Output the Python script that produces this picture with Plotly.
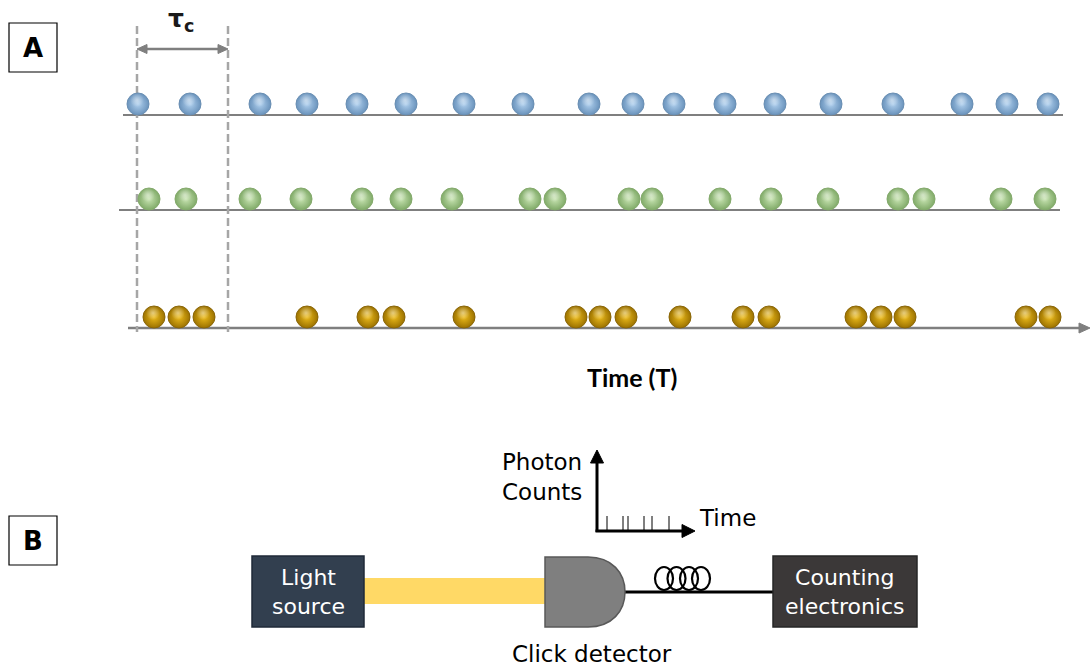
import plotly.graph_objects as go

# ---- data: photon arrival times (horizontal position along the time axis) ----
blue_times = [138, 190, 260, 307, 357, 406, 464, 523, 589, 633, 674, 725, 775, 831, 893, 962, 1007, 1048]
green_times = [149, 186, 250, 301, 362, 401, 452, 530, 555, 629, 652, 720, 771, 828, 898, 924, 1001, 1045]
gold_times = [154, 179, 204, 307, 368, 394, 464, 576, 600, 626, 680, 743, 769, 856, 881, 905, 1026, 1050]
counter_ticks = [607, 623, 628, 644, 652, 669]

# c = centre colour, e = rim colour of each shaded photon
rows = [
    dict(t=blue_times, y=104, line_y=115, x0=123, x1=1063, c="#B0D0EE", e="#6A93BC", edge="#6A8FB3"),
    dict(t=green_times, y=199, line_y=210, x0=119, x1=1060, c="#C8E4B2", e="#80AA68", edge="#84AA6C"),
    dict(t=gold_times, y=317, line_y=328, x0=128, x1=1088, c="#EDBC1C", e="#9C7200", edge="#8A6608"),
]

fig = go.Figure()
shapes = []
annotations = []
GRAY = "#7F7F7F"


def arrow_head(tip_x, tip_y, direction, length, half, color):
    dx, dy = direction
    bx, by = tip_x - dx * length, tip_y - dy * length
    px, py = -dy * half, dx * half
    return dict(type="path",
                path=f"M {tip_x},{tip_y} L {bx + px},{by + py} L {bx - px},{by - py} Z",
                fillcolor=color, line=dict(color=color, width=1))


for i, r in enumerate(rows):
    end = r["x1"] if i < 2 else r["x1"] - 8
    shapes.append(dict(type="line", x0=r["x0"], x1=end, y0=r["line_y"], y1=r["line_y"],
                       line=dict(color=GRAY, width=2.5 if i == 2 else 2), layer="below"))
    if i == 2:
        shapes.append(arrow_head(1090, r["line_y"], (1, 0), 11, 5, GRAY))
    # plotly radial gradient: gradient.color is the centre, marker.color the rim
    fig.add_trace(go.Scatter(
        x=r["t"], y=[r["y"]] * len(r["t"]), mode="markers", hoverinfo="skip",
        marker=dict(size=22, color=r["e"], line=dict(color=r["edge"], width=1),
                    gradient=dict(type="radial", color=r["c"]))))
    fig.add_trace(go.Scatter(
        x=[t - 1 for t in r["t"]], y=[r["y"] - 4] * len(r["t"]), mode="markers", hoverinfo="skip",
        marker=dict(size=14, color="rgba(255,255,255,0)", line=dict(width=0),
                    gradient=dict(type="radial", color="rgba(255,255,255,0.45)"))))

# coherence-time window
for xd in (137, 228):
    shapes.append(dict(type="line", x0=xd, x1=xd, y0=26, y1=332,
                       line=dict(color="#A6A6A6", width=2.5, dash="8px,4px"), layer="below"))
shapes.append(dict(type="line", x0=145, x1=220, y0=49, y1=49, line=dict(color=GRAY, width=2.5)))
shapes.append(arrow_head(228, 49, (1, 0), 10, 4.5, GRAY))
shapes.append(arrow_head(137, 49, (-1, 0), 10, 4.5, GRAY))
annotations.append(dict(x=181, y=20, xref="x", yref="y", text="<b>τ<sub>c</sub></b>", showarrow=False,
                        font=dict(size=25, color="#1a1a1a", family="DejaVu Sans")))

annotations.append(dict(x=632, y=377, xref="x", yref="y", text="<b>Time (T)</b>", showarrow=False,
                        font=dict(size=25, color="black", family="Lato")))

# panel letters
for lbl, y0, y1 in (("A", 23, 72), ("B", 516, 565)):
    shapes.append(dict(type="rect", x0=9, x1=57, y0=y0, y1=y1, line=dict(color="black", width=1.2)))
    annotations.append(dict(x=33, y=(y0 + y1) / 2, xref="x", yref="y", text=f"<b>{lbl}</b>",
                            showarrow=False, font=dict(size=26, color="black", family="DejaVu Sans")))

# panel B: setup
shapes.append(dict(type="rect", x0=363, x1=546, y0=578, y1=604, fillcolor="#FFD966", line=dict(width=0)))
shapes.append(dict(type="rect", x0=252, x1=364, y0=556, y1=627, fillcolor="#323F4F",
                   line=dict(color="#1F2A38", width=1.5)))
annotations.append(dict(x=308, y=592, xref="x", yref="y", text="Light<br>source", showarrow=False,
                        font=dict(size=22, color="white", family="DejaVu Sans")))
shapes.append(dict(type="line", x0=624, x1=774, y0=592, y1=592, line=dict(color="black", width=3)))
shapes.append(dict(type="path",
                   path="M 545,557 L 588,557 C 612,557 625,573 625,592 C 625,611 612,627 588,627 L 545,627 Z",
                   fillcolor="#7F7F7F", line=dict(color="#595959", width=1.5)))
for cx in (664, 676.5, 689, 701):
    shapes.append(dict(type="circle", x0=cx - 9, x1=cx + 9, y0=567, y1=590,
                       line=dict(color="black", width=2.2)))
shapes.append(dict(type="rect", x0=773, x1=917, y0=556, y1=627, fillcolor="#3B3838",
                   line=dict(color="#262626", width=1.5)))
annotations.append(dict(x=845, y=592, xref="x", yref="y", text="Counting<br>electronics", showarrow=False,
                        font=dict(size=22, color="white", family="DejaVu Sans")))
annotations.append(dict(x=592, y=654, xref="x", yref="y", text="Click detector", showarrow=False,
                        font=dict(size=23, color="black", family="DejaVu Sans")))

# inset photon-count axes
shapes.append(dict(type="line", x0=597, x1=597, y0=532, y1=462, line=dict(color="black", width=3)))
shapes.append(arrow_head(597, 450, (0, -1), 13, 6.5, "black"))
shapes.append(dict(type="line", x0=595.5, x1=683, y0=531, y1=531, line=dict(color="black", width=3)))
shapes.append(arrow_head(695, 531, (1, 0), 13, 6.5, "black"))
for tx in counter_ticks:
    shapes.append(dict(type="line", x0=tx, x1=tx, y0=516, y1=531, line=dict(color="black", width=1)))
annotations.append(dict(x=584, y=477, xref="x", yref="y", text="Photon<br>Counts", showarrow=False,
                        xanchor="right", align="left",
                        font=dict(size=23, color="black", family="DejaVu Sans")))
annotations.append(dict(x=697, y=518, xref="x", yref="y", text="Time", showarrow=False, xanchor="left",
                        font=dict(size=23, color="black", family="DejaVu Sans")))

fig.update_layout(
    width=1090, height=668, margin=dict(l=0, r=0, t=0, b=0),
    paper_bgcolor="white", plot_bgcolor="white", showlegend=False,
    xaxis=dict(range=[0, 1090], visible=False, fixedrange=True),
    yaxis=dict(range=[668, 0], visible=False, fixedrange=True),
    shapes=shapes, annotations=annotations,
)
fig.write_html("out.html", config={"displayModeBar": False},
               post_script="document.body.style.margin='0';document.body.style.overflow='hidden';")
